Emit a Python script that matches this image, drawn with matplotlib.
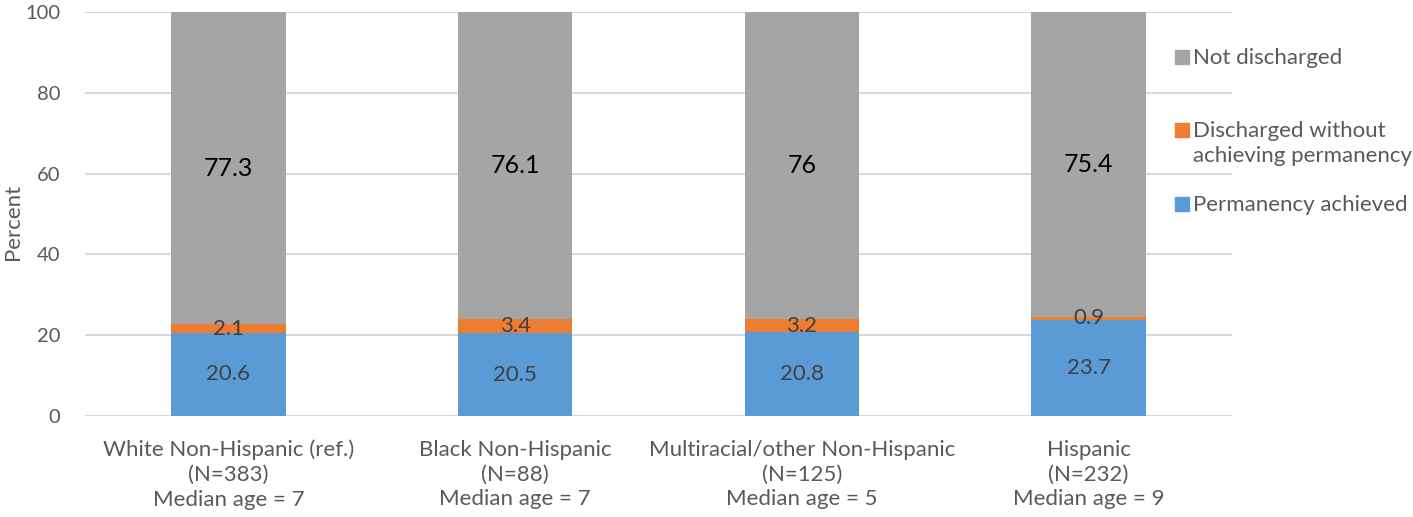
import numpy as np
import matplotlib.pyplot as plt
from matplotlib.patches import Rectangle

plt.rcParams['font.family'] = ['Lato', 'DejaVu Sans']

groups = ['White Non-Hispanic (ref.)', 'Black Non-Hispanic',
          'Multiracial/other Non-Hispanic', 'Hispanic']
n_sizes = [383, 88, 125, 232]
median_ages = [7, 7, 5, 9]

permanency = [20.6, 20.5, 20.8, 23.7]
discharged_wo = [2.1, 3.4, 3.2, 0.9]
not_discharged = [77.3, 76.1, 76, 75.4]

c_blue = '#5B9BD5'
c_orange = '#ED7D31'
c_gray = '#A5A5A5'
txt = '#595959'

W, H = 1413, 517
fig = plt.figure(figsize=(W / 100, H / 100), dpi=100)
ax = fig.add_axes([85 / W, 1 - 416 / H, (1232 - 85) / W, (416 - 12) / H])

x = np.arange(len(groups))
w = 0.4
b1 = ax.bar(x, permanency, w, color=c_blue, zorder=2)
bottom2 = np.array(permanency)
b2 = ax.bar(x, discharged_wo, w, bottom=bottom2, color=c_orange, zorder=2)
bottom3 = bottom2 + np.array(discharged_wo)
b3 = ax.bar(x, not_discharged, w, bottom=bottom3, color=c_gray, zorder=2)

ax.bar_label(b1, labels=[f'{v:g}' for v in permanency], label_type='center',
             fontsize=16, color='#404040')
ax.bar_label(b2, labels=[f'{v:g}' for v in discharged_wo], label_type='center',
             fontsize=16, color='#404040')
ax.bar_label(b3, labels=[f'{v:g}' for v in not_discharged], label_type='center',
             fontsize=18, color='black')

ax.set_xlim(-0.5, len(groups) - 0.5)
ax.set_ylim(0, 100)
ax.set_yticks(np.arange(0, 101, 20))
ax.yaxis.grid(True, color='#D9D9D9', linewidth=1.5, zorder=0)
ax.set_axisbelow(True)
for s in ax.spines.values():
    s.set_visible(False)

xlabels = [f'{g}\n(N={n})\nMedian age = {m}'
           for g, n, m in zip(groups, n_sizes, median_ages)]
ax.set_xticks(x)
ax.set_xticklabels(xlabels, linespacing=1.3)
ax.tick_params(axis='x', length=0, pad=17, labelsize=16, labelcolor=txt)
ax.tick_params(axis='y', length=0, pad=18, labelsize=14.5, labelcolor=txt)
fig.text(13 / W, 1 - 222 / H, 'Percent', rotation=90, fontsize=16, color=txt,
         ha='center', va='center')

# legend on the right, drawn entry by entry (pixel positions from top)
legend_items = [
    (c_gray, 'Not discharged', 57),
    (c_orange, 'Discharged without\nachieving permanency', 130),
    (c_blue, 'Permanency achieved', 204),
]
sq = 14
for color, label, yc in legend_items:
    fig.patches.append(Rectangle((1175 / W, 1 - (yc + sq / 2) / H), sq / W, sq / H,
                                 transform=fig.transFigure, color=color))
    fig.text(1193 / W, 1 - (yc - 9) / H, label, fontsize=16, color=txt,
             va='top', ha='left', linespacing=1.3)

fig.savefig('out.png', dpi=100)
